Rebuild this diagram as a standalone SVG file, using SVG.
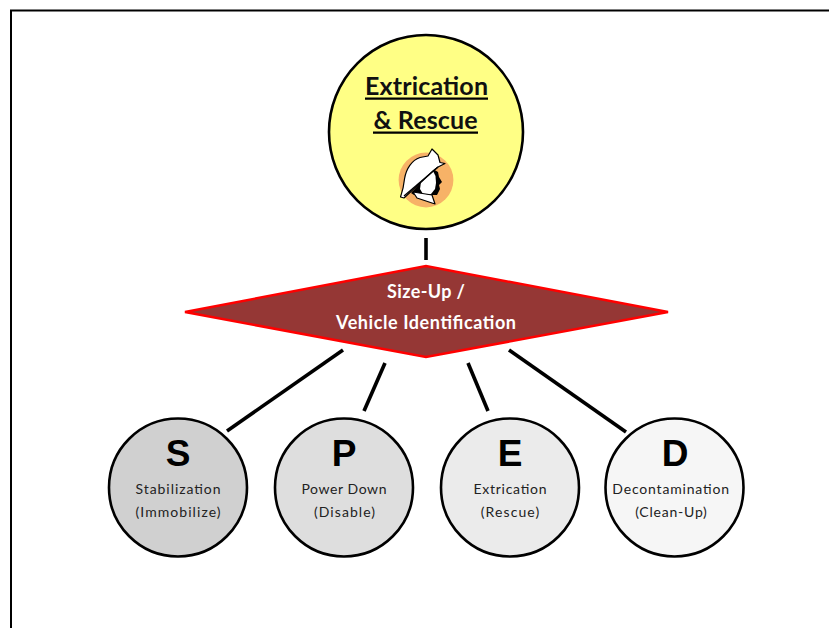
<svg xmlns="http://www.w3.org/2000/svg" width="829" height="628" viewBox="0 0 829 628">
<style>
.c{stroke:#000;stroke-width:2.6}
.l{font-family:Lato,"Open Sans","Liberation Sans",sans-serif;font-size:14px;fill:#222;text-anchor:middle}
.b{font-family:"Liberation Sans",Arial,sans-serif;font-size:37px;font-weight:700;fill:#000;text-anchor:middle}
.t{font-family:Lato,"Open Sans","Liberation Sans",sans-serif;font-size:25px;font-weight:700;fill:#111;text-anchor:middle}
.w{font-family:Lato,"Open Sans","Liberation Sans",sans-serif;font-size:18px;font-weight:700;fill:#fff;text-anchor:middle}
#connectors line{stroke:#000;stroke-width:3.6}
.h{stroke:#000;stroke-width:1.200;stroke-linejoin:round}
</style>
<rect width="829" height="628" fill="#fff"/>
<path d="M11 628V10.500H829" fill="none" stroke="#000" stroke-width="2"/>
<g id="connectors">
<line x1="426" y1="238" x2="426" y2="260"/>
<line x1="343" y1="350" x2="227" y2="431"/>
<line x1="385" y1="363" x2="364" y2="411"/>
<line x1="468" y1="363" x2="488" y2="411"/>
<line x1="509" y1="350" x2="626" y2="432"/>
</g>
<g id="top">
<circle cx="426" cy="132" r="97" fill="#ffff85" class="c"/>
<text class="t" x="426.500" y="94.500" textLength="123" lengthAdjust="spacing">Extrication</text>
<line x1="365" y1="98.700" x2="488" y2="98.700" stroke="#000" stroke-width="2.200"/>
<text class="t" x="425.500" y="128.500" textLength="104" lengthAdjust="spacing">&amp; Rescue</text>
<line x1="373" y1="132.700" x2="478" y2="132.700" stroke="#000" stroke-width="2.200"/>
<circle cx="426" cy="180" r="27.400" fill="#f7b267"/>
<path d="M411 193L433 169L438 172L439 177L442 182L439 185L440 189L437 195L414 195Z" fill="#000"/>
<path d="M421 182L433 171L435.500 176L436 183L435 189L431 194L423 194L420 189Z" fill="#fff"/>
<path class="h" d="M413 192L432 195L435 204L417 198Z" fill="#fff"/>
<path class="h" d="M400.500 197C403 190 404 184 404.500 179C406 169 412 160 420 157.500L428 156L432 149L438 155L440 162.500L445 163.500L438 167L433 171L404 198Z" fill="#fff"/>
<path d="M404 196L438 167" stroke="#000" stroke-width="1.400" fill="none"/>
</g>
<g id="diamond">
<polygon points="185,312 426,266 668,312 426,357" fill="#953735" stroke="#ff0000" stroke-width="2.500"/>
<text class="w" x="426" y="298" textLength="78" lengthAdjust="spacing">Size-Up /</text>
<text class="w" x="426" y="329" textLength="180" lengthAdjust="spacing">Vehicle Identification</text>
</g>
<g id="S">
<circle cx="178" cy="487.500" r="69" fill="#d0d0d0" class="c"/>
<text class="b" x="178" y="465.500">S</text>
<text class="l" x="178" y="493.500" textLength="85" lengthAdjust="spacing">Stabilization</text>
<text class="l" x="178" y="517" textLength="85" lengthAdjust="spacing">(Immobilize)</text>
</g>
<g id="P">
<circle cx="344" cy="487.500" r="69" fill="#dedede" class="c"/>
<text class="b" x="344" y="465.500">P</text>
<text class="l" x="344" y="493.500" textLength="85" lengthAdjust="spacing">Power Down</text>
<text class="l" x="344.500" y="517" textLength="61" lengthAdjust="spacing">(Disable)</text>
</g>
<g id="E">
<circle cx="510" cy="487.500" r="69" fill="#ebebeb" class="c"/>
<text class="b" x="510" y="465.500">E</text>
<text class="l" x="510" y="493.500" textLength="73" lengthAdjust="spacing">Extrication</text>
<text class="l" x="510" y="517" textLength="58.600" lengthAdjust="spacing">(Rescue)</text>
</g>
<g id="D">
<circle cx="674.500" cy="487.500" r="69" fill="#f6f6f6" class="c"/>
<text class="b" x="675" y="465.500">D</text>
<text class="l" x="670.700" y="493.500" textLength="116.700" lengthAdjust="spacing">Decontamination</text>
<text class="l" x="671" y="517" textLength="71.700" lengthAdjust="spacing">(Clean-Up)</text>
</g>
</svg>
